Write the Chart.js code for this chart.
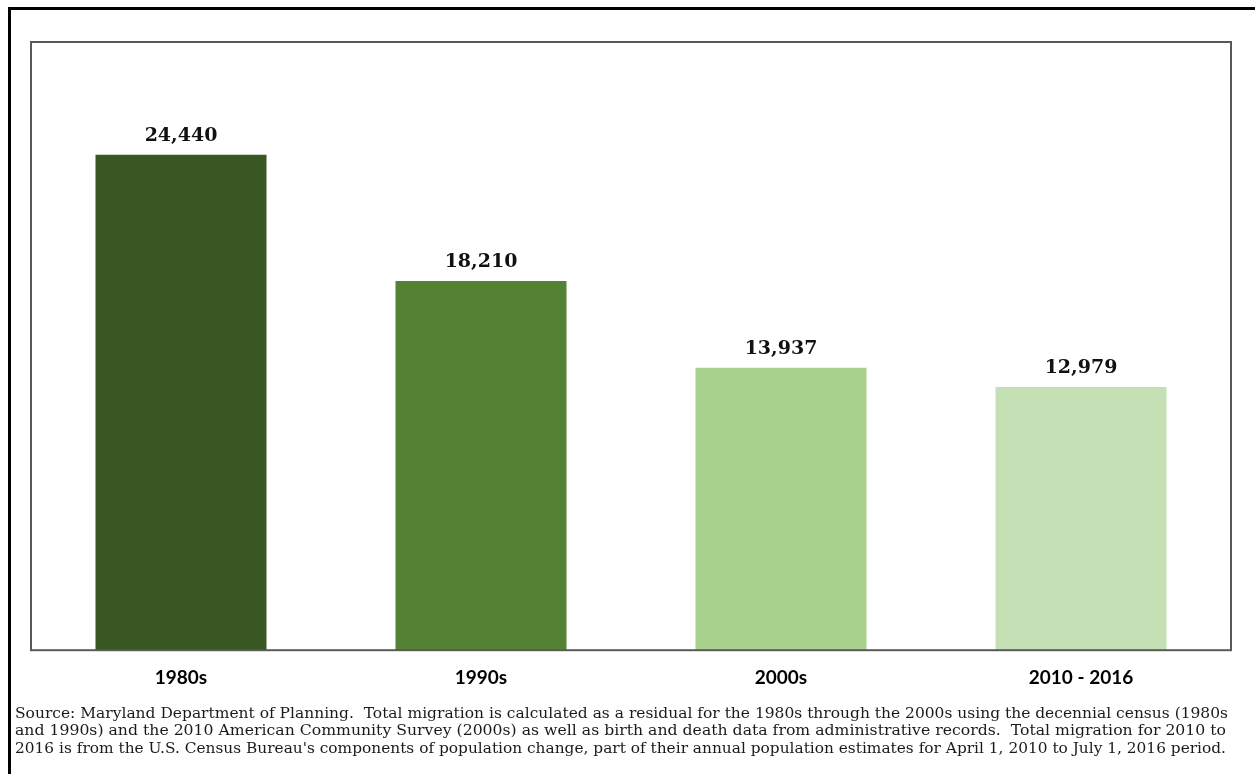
<!DOCTYPE html>
<html>
<head>
<meta charset="utf-8">
<script src="https://cdn.jsdelivr.net/npm/chart.js@4/dist/chart.umd.min.js"></script>
<style>
  html, body { margin: 0; padding: 0; background: #fff; }
  #wrap { width: 1255px; height: 774px; position: relative; }
</style>
</head>
<body>
<div id="wrap"><canvas id="chart" width="1255" height="774"></canvas></div>
<script>
const decades = ["1980s", "1990s", "2000s", "2010 - 2016"];
const migration = [24440, 18210, 13937, 12979];
const barColors = ["#385723", "#548235", "#a9d18e", "#c5e0b4"];
const sourceLines = [
  "Source: Maryland Department of Planning.  Total migration is calculated as a residual for the 1980s through the 2000s using the decennial census (1980s",
  "and 1990s) and the 2010 American Community Survey (2000s) as well as birth and death data from administrative records.  Total migration for 2010 to",
  "2016 is from the U.S. Census Bureau's components of population change, part of their annual population estimates for April 1, 2010 to July 1, 2016 period.",
];

// box round the plot, outer frame, labels over bars, source note
const decorations = {
  id: "decorations",
  afterDatasetsDraw(chart) {
    const ctx = chart.ctx;
    const area = chart.chartArea;
    ctx.save();

    // outer frame (top and left edges only show)
    ctx.strokeStyle = "#000";
    ctx.lineWidth = 3;
    ctx.beginPath();
    ctx.moveTo(1255, 8.5);
    ctx.lineTo(9.5, 8.5);
    ctx.lineTo(9.5, 774);
    ctx.stroke();

    // plot box
    ctx.strokeStyle = "#595959";
    ctx.lineWidth = 2;
    ctx.strokeRect(area.left, area.top, area.right - area.left, area.bottom - area.top);

    // value labels
    const meta = chart.getDatasetMeta(0);
    ctx.fillStyle = "#111";
    ctx.font = "bold 19px 'DejaVu Serif'";
    ctx.textAlign = "center";
    ctx.textBaseline = "middle";
    meta.data.forEach((bar, i) => {
      ctx.fillText(migration[i].toLocaleString("en-US"), bar.x, bar.y - 19);
    });

    // source note, squeezed to span the page width
    ctx.fillStyle = "#1a1a1a";
    ctx.font = "15px 'DejaVu Serif'";
    ctx.textAlign = "left";
    ctx.textBaseline = "middle";
    const targets = [1213, 1211, 1211];
    sourceLines.forEach((line, i) => {
      const w = ctx.measureText(line).width;
      ctx.save();
      ctx.translate(15, 714 + i * 17.5);
      ctx.scale(targets[i] / w, 1);
      ctx.fillText(line, 0, 0);
      ctx.restore();
    });
    ctx.restore();
  },
};

new Chart(document.getElementById("chart").getContext("2d"), {
  type: "bar",
  data: {
    labels: decades,
    datasets: [
      {
        data: migration,
        backgroundColor: barColors,
        borderWidth: 0,
        barPercentage: 0.57,
        categoryPercentage: 1,
      },
    ],
  },
  options: {
    responsive: false,
    animation: false,
    layout: { padding: { left: 31, right: 24, top: 42, bottom: 77 } },
    plugins: {
      legend: { display: false },
      tooltip: { enabled: false },
    },
    scales: {
      x: {
        grid: { display: false },
        border: { display: false },
        ticks: {
          color: "#000",
          padding: 8,
          font: { family: "Lato", weight: "bold", size: 19 },
        },
      },
      y: {
        display: false,
        min: 0,
        max: 30000,
      },
    },
  },
  plugins: [decorations],
});
</script>
</body>
</html>
